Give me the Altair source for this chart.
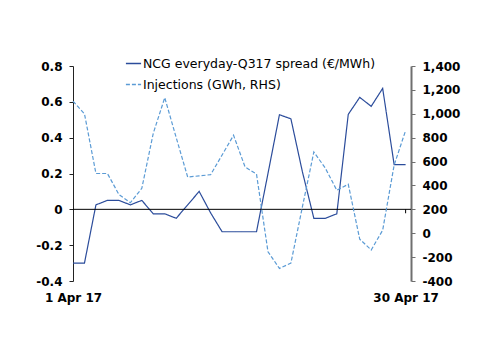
import altair as alt
import pandas as pd

days = list(range(1, 31))
spread = [-0.3, -0.3, 0.025, 0.05, 0.05, 0.025, 0.05, -0.025, -0.025, -0.05,
          0.025, 0.1, -0.02, -0.125, -0.125, -0.125, -0.125, 0.2, 0.528, 0.505,
          0.21, -0.05, -0.05, -0.025, 0.53, 0.625, 0.575, 0.675, 0.25, 0.25]
injections = [1105, 1000, 500, 500, 325, 255, 376, 837, 1135, 800,
              470, 480, 490, 655, 820, 555, 495, -155, -295, -250,
              220, 680, 545, 360, 410, -50, -140, 25, 570, 860]
names = ["NCG everyday-Q317 spread (€/MWh)", "Injections (GWh, RHS)"]
colors = ["#2B4C9B", "#5B9BD5"]
left_ticks = [-0.4, -0.2, 0, 0.2, 0.4, 0.6, 0.8]
right_ticks = [-400, -200, 0, 200, 400, 600, 800, 1000, 1200, 1400]

df1 = pd.DataFrame({"day": days, "value": spread, "series": names[0]})
df2 = pd.DataFrame({"day": days, "value": injections, "series": names[1]})
zero_df = pd.DataFrame({"day": [30], "value": [0], "value2": [-0.022]})

FONT = "DejaVu Sans"
xscale = alt.Scale(domain=[1, 30.47], nice=False, zero=False)
lscale = alt.Scale(domain=[-0.4, 0.8], nice=False)
color = alt.Color("series:N", scale=alt.Scale(domain=names, range=colors),
                  legend=alt.Legend(title=None, orient="none", legendX=52, legendY=-11,
                                    symbolType="stroke", symbolSize=230, symbolStrokeWidth=1.3,
                                    labelFont=FONT, labelFontSize=12.5, labelColor="#000000",
                                    labelLimit=400,
                                    rowPadding=6, labelOffset=1, symbolOffset=0))
dash = alt.StrokeDash("series:N", scale=alt.Scale(domain=names, range=[[1, 0], [4, 2]]), legend=None)

x_axis = alt.Axis(values=[1, 30], title=None, domain=False, ticks=False, grid=False, orient="bottom",
                  labelExpr="datum.value == 1 ? '1 Apr 17' : '30 Apr 17'",
                  labelFont=FONT, labelFontSize=12, labelFontWeight="bold",
                  labelColor="#000000", labelPadding=11, labelFlush=False)
x_enc = alt.X("day:Q", scale=xscale, axis=x_axis)

left_axis = alt.Axis(orient="left", values=left_ticks, title=None, grid=False, labelOverlap=False,
                     labelExpr="datum.value == 0 ? '0' : (datum.value < 0 ? '-' : '') + format(abs(datum.value), '.1f')",
                     labelFont=FONT, labelFontSize=12, labelFontWeight="bold", labelColor="#000000",
                     domainColor="#222222", domainWidth=1, tickColor="#222222", tickSize=4,
                     labelPadding=7)
right_axis = alt.Axis(orient="right", values=right_ticks, title=None, grid=False, labelOverlap=False,
                      labelExpr="(datum.value < 0 ? '-' : '') + format(abs(datum.value), ',')",
                      labelFont=FONT, labelFontSize=12, labelFontWeight="bold", labelColor="#000000",
                      domainColor="#6f6f6f", domainWidth=2, tickColor="#6f6f6f", tickSize=4,
                      labelPadding=7)

zero = alt.Chart(zero_df).mark_rule(color="#000000", strokeWidth=1).encode(
    y=alt.Y("value:Q", scale=lscale, axis=None))

tick = alt.Chart(zero_df).mark_rule(color="#000000").encode(
    x=x_enc, y=alt.Y("value:Q", scale=lscale, axis=None), y2="value2:Q")

left = alt.Chart(df1).mark_line(strokeWidth=1.2).encode(
    x=x_enc,
    y=alt.Y("value:Q", scale=lscale, axis=left_axis),
    color=color, strokeDash=dash)

right = alt.Chart(df2).mark_line(strokeWidth=1.2).encode(
    x=x_enc,
    y=alt.Y("value:Q", scale=alt.Scale(domain=[-400, 1400], nice=False), axis=right_axis),
    color=color, strokeDash=dash)

chart = alt.layer(left, zero, tick, right).resolve_scale(y="independent").properties(
    width=338, height=215,
    autosize=alt.AutoSizeParams(type="none"),
    padding={"left": 73, "top": 66, "right": 89, "bottom": 73},
    background="#ffffff",
).configure_view(strokeWidth=0, stroke=None)

chart.save("out.html", embed_options={"renderer": "svg", "actions": False})
